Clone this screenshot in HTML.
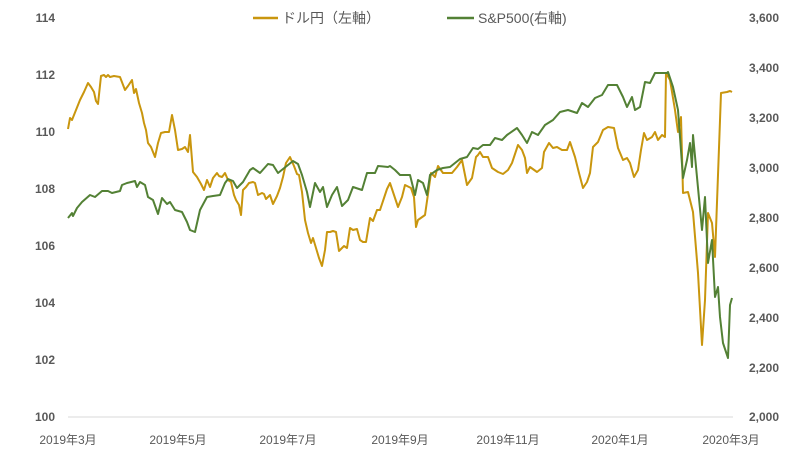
<!DOCTYPE html>
<html><head><meta charset="utf-8"><style>
body{margin:0;background:#fff;}
svg text{font-family:"Liberation Sans","Noto Sans CJK JP",sans-serif;fill:#595959;}
</style></head><body>
<svg width="801" height="469" viewBox="0 0 801 469" xmlns="http://www.w3.org/2000/svg">
<line x1="68" y1="417" x2="733" y2="417" stroke="#d9d9d9" stroke-width="1"/>
<g font-size="12" font-weight="bold" text-anchor="end">
<text x="55" y="22">114</text><text x="55" y="79">112</text><text x="55" y="136">110</text>
<text x="55" y="193">108</text><text x="55" y="250">106</text><text x="55" y="307">104</text>
<text x="55" y="364">102</text><text x="55" y="421">100</text>
</g>
<g font-size="12" font-weight="bold" text-anchor="end">
<text x="779" y="22">3,600</text><text x="779" y="72">3,400</text><text x="779" y="122">3,200</text>
<text x="779" y="172">3,000</text><text x="779" y="222">2,800</text><text x="779" y="272">2,600</text>
<text x="779" y="322">2,400</text><text x="779" y="372">2,200</text><text x="779" y="421">2,000</text>
</g>
<g font-size="12" text-anchor="middle">
<text x="68" y="444">2019年3月</text><text x="178" y="444">2019年5月</text><text x="288" y="444">2019年7月</text>
<text x="400" y="444">2019年9月</text><text x="508" y="444">2019年11月</text><text x="620" y="444">2020年1月</text>
<text x="731" y="444">2020年3月</text>
</g>
<line x1="253" y1="18" x2="278" y2="18" stroke="#C9960E" stroke-width="2.5"/>
<text x="282" y="23" font-size="14">ドル円（左軸）</text>
<line x1="447" y1="18" x2="474" y2="18" stroke="#538135" stroke-width="2.5"/>
<text x="478" y="23" font-size="14">S&amp;P500(右軸)</text>
<polyline fill="none" stroke="#C9960E" stroke-width="2" stroke-linejoin="round" points="68,129 70,118 72,120 76,110 80,100 84,92 88,83 91,87 94,92 96,101 98,104 101,76 104,75 106,77 108,75 110,77 114,76 120,77 125,90 128,86 132,80 134,93 136,89 139,103 142,113 144,123 146,130 148,143 151,147 155,157 158,143 161,133 165,132 169,132 172,115 175,130 178,150 182,149 185,147 188,152 190,135 193,172 197,177 201,184 204,190 207,180 210,187 213,178 217,173 219,176 222,177 225,173 228,180 231,182 234,195 236,200 239,205 241,215 243,190 246,187 249,183 253,182 255,183 258,195 262,193 264,194 266,199 270,195 273,204 277,196 280,188 283,177 286,163 290,157 294,166 297,174 299,175 302,192 305,220 308,233 311,243 313,238 316,248 319,258 322,266 325,250 327,232 330,232 333,231 336,232 339,251 341,249 344,246 347,248 350,228 353,230 357,229 360,240 363,242 366,242 370,218 373,221 377,210 380,210 384,198 387,189 390,183 398,207 402,197 405,185 411,188 414,197 416,227 418,220 425,215 431,173 435,177 438,166 443,173 452,173 457,167 462,160 467,185 472,178 476,157 478,155 480,152 483,157 488,157 492,168 498,172 503,174 508,170 512,163 518,145 522,150 525,158 527,173 530,167 537,172 542,168 544,152 549,143 553,148 557,147 562,150 567,150 570,142 575,157 579,173 583,188 587,182 590,173 593,147 598,142 603,130 608,127 614,128 618,148 623,160 627,158 630,163 634,177 638,170 641,150 644,133 647,140 652,137 655,132 658,140 662,135 665,137 666,73 670,80 675,110 678,132 681,117 683,193 688,192 693,212 698,273 702,345 705,300 708,213 712,223 715,257 721,93 727,92 730,91 732,92"/>
<polyline fill="none" stroke="#538135" stroke-width="2" stroke-linejoin="round" points="68,218 72,213 73,216 77,208 82,202 90,195 95,197 102,191 108,191 112,193 120,191 122,185 127,183 135,181 137,187 140,182 145,185 148,197 153,200 158,214 162,198 167,204 170,202 175,210 182,212 187,222 190,230 195,232 200,210 207,197 213,196 220,195 225,183 228,179 233,181 237,188 243,182 250,170 253,168 260,173 268,164 273,165 278,173 283,169 288,165 293,161 298,164 302,175 307,192 310,207 315,183 320,192 323,187 327,207 332,195 337,187 342,206 348,200 353,187 362,190 367,173 375,173 378,166 388,167 390,166 395,170 400,175 410,175 415,195 418,180 423,183 427,195 430,175 437,170 443,168 450,167 460,159 467,157 473,148 478,149 483,145 490,145 495,138 502,140 507,135 517,128 522,135 527,143 532,132 538,135 545,125 553,120 560,112 568,110 577,113 582,103 588,107 595,98 602,95 608,85 617,85 623,97 627,107 632,97 635,110 640,107 645,82 650,83 655,73 667,73 668,72 673,87 678,110 680,137 683,178 687,160 690,143 692,167 693,135 702,230 705,197 708,263 712,240 715,297 718,287 720,317 723,343 728,358 730,305 732,298"/>
</svg>
</body></html>
